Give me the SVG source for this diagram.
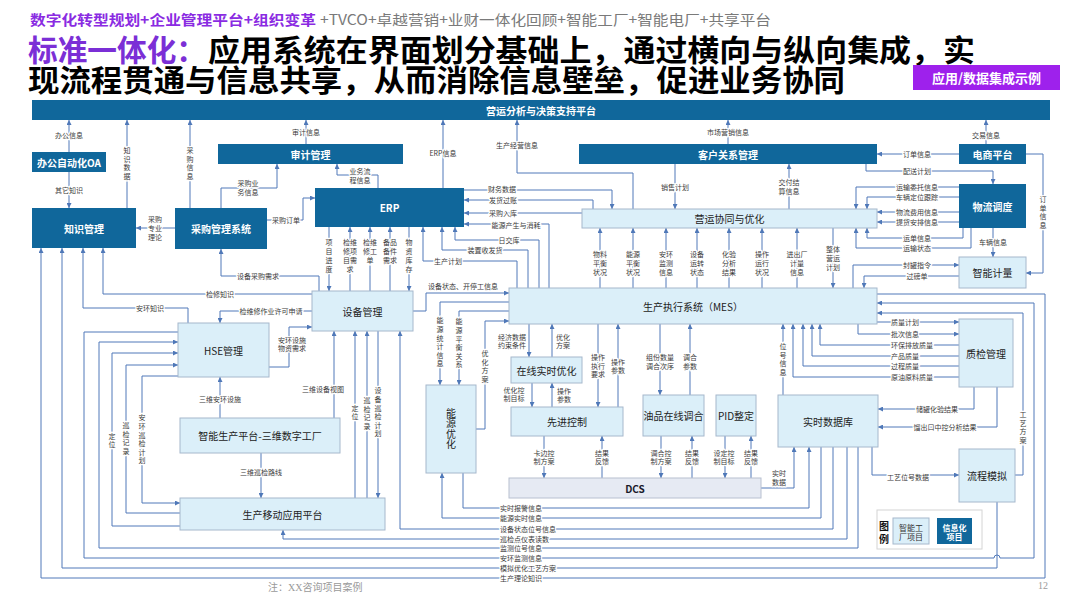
<svg xmlns="http://www.w3.org/2000/svg" width="1080" height="608" viewBox="0 0 1080 608">
<defs>
<style>
text{font-family:"Noto Sans CJK SC","Noto Sans",sans-serif}
.dk{fill:#10679b}
.lt{fill:#dbeff9;stroke:#a6b8cc;stroke-width:1}
.nt{font-size:10px;text-anchor:middle;dominant-baseline:central}
.w{fill:#fff;font-weight:bold}
.d{fill:#222}
#connectors path{fill:none;stroke:#5079b9;stroke-width:1}
.lb{font-size:7px;fill:#3a3a3a;text-anchor:middle;dominant-baseline:central;paint-order:stroke;stroke:#fff;stroke-width:2.5px;stroke-linejoin:round}
.ls{text-anchor:start}
.v{writing-mode:vertical-rl;letter-spacing:1.6px}
.tt{font-size:30px;font-weight:bold}
</style>
<marker id="a" viewBox="0 0 6 6" refX="6" refY="3" markerWidth="5" markerHeight="5" orient="auto" markerUnits="userSpaceOnUse"><path d="M0,0L6,3L0,6z" fill="#4f78b8"/></marker>
</defs>
<rect width="1080" height="608" fill="#fff"/>

<g id="header">
<text x="30" y="25" font-size="14" font-weight="bold" fill="#8a2be2" textLength="286" lengthAdjust="spacingAndGlyphs">数字化转型规划+企业管理平台+组织变革</text>
<text x="320" y="25" font-size="14" fill="#7a7a7a" textLength="451" lengthAdjust="spacingAndGlyphs">+TVCO+卓越营销+业财一体化回顾+智能工厂+智能电厂+共享平台</text>
<text class="tt" x="28" y="61" fill="#7b2fd6" textLength="178" lengthAdjust="spacingAndGlyphs">标准一体化：</text>
<text class="tt" x="208" y="61" fill="#000" textLength="767" lengthAdjust="spacingAndGlyphs">应用系统在界面划分基础上，通过横向与纵向集成，实</text>
<text class="tt" x="28" y="91" fill="#000" textLength="817" lengthAdjust="spacingAndGlyphs">现流程贯通与信息共享，从而消除信息壁垒，促进业务协同</text>
<rect x="913" y="65" width="147" height="25" fill="#9e21ec"/>
<text x="986.5" y="77.5" font-size="13" font-weight="bold" fill="#fff" text-anchor="middle" dominant-baseline="central">应用/数据集成示例</text>
</g>

<g id="connectors" marker-end="url(#a)">
<path d="M69,152V120"/>
<path d="M69,172V208"/>
<path d="M127,208V120"/>
<path d="M190,208V120"/>
<path d="M306,144V120"/>
<path d="M221,208V188H277V164"/>
<path d="M175,228H136"/>
<path d="M267,220H303V198H315"/>
<path d="M378,188V175H337V164"/>
<path d="M443,188V120"/>
<path d="M633,209V173H517V120"/>
<path d="M728,144V120"/>
<path d="M986,144V120"/>
<path d="M959,154H877"/>
<path d="M866,164V171H993V184"/>
<path d="M1026,154H1043V273H1026"/>
<path d="M675,164V209"/>
<path d="M789,209V164"/>
<path d="M959,187H856V209"/>
<path d="M959,197H867V209"/>
<path d="M959,212H877"/>
<path d="M959,222H877"/>
<path d="M963,228V238H867V228"/>
<path d="M971,228V248H856V228"/>
<path d="M993,228V257"/>
<path d="M853,288V265H959"/>
<path d="M959,276H864V288"/>
<path d="M600,288V228"/>
<path d="M633,288V228"/>
<path d="M666,288V228"/>
<path d="M697,288V228"/>
<path d="M729,288V228"/>
<path d="M762,288V228"/>
<path d="M797,288V228"/>
<path d="M833,228V288"/>
<path d="M329,227V291"/>
<path d="M350,291V227"/>
<path d="M370,291V227"/>
<path d="M390,291V227"/>
<path d="M409,227V291"/>
<path d="M464,190H612V209"/>
<path d="M593,209V200H464"/>
<path d="M582,213H464"/>
<path d="M549,288V224H464"/>
<path d="M539,288V240H455V227"/>
<path d="M528,288V250H442V227"/>
<path d="M517,288V261H423V227"/>
<path d="M413,311H426V293H509"/>
<path d="M509,302H440V385"/>
<path d="M509,311H459V385"/>
<path d="M476,429H485V321H509"/>
<path d="M529,324V357"/>
<path d="M552,357V324"/>
<path d="M532,383V407"/>
<path d="M552,407V383"/>
<path d="M598,324V407"/>
<path d="M618,407V324"/>
<path d="M660,324V395"/>
<path d="M690,395V324"/>
<path d="M783,395V324"/>
<path d="M877,322H959"/>
<path d="M858,324V334H959"/>
<path d="M959,345H820V324"/>
<path d="M959,356H812V324"/>
<path d="M959,366H803V324"/>
<path d="M959,377H793V324"/>
<path d="M974,387V409H878"/>
<path d="M997,387V427H878"/>
<path d="M1015,475H1023V313H877"/>
<path d="M178,332H84V558H994a3,3 0 0 1 6,0H1034V303H877"/>
<path d="M997,502V568H62V248"/>
<path d="M877,294H1045V578H41V248"/>
<path d="M858,447V548H99V342H178"/>
<path d="M847,447V539H283V530"/>
<path d="M833,447V529H400V331"/>
<path d="M821,447V518H442V473"/>
<path d="M463,473V508H809V447"/>
<path d="M761,488H794V447"/>
<path d="M872,447V475H959"/>
<path d="M188,323V308H83V248"/>
<path d="M312,294H103V248"/>
<path d="M319,291V276H221V249"/>
<path d="M312,311H220V323"/>
<path d="M269,367H289V327H312"/>
<path d="M180,526H112V353H178"/>
<path d="M180,513H126V365H178"/>
<path d="M178,376H142V503H180"/>
<path d="M220,418V377"/>
<path d="M334,418V331"/>
<path d="M355,498V331"/>
<path d="M367,498V331"/>
<path d="M378,331V498"/>
<path d="M261,453V498"/>
<path d="M544,436V478"/>
<path d="M602,478V436"/>
<path d="M661,436V478"/>
<path d="M692,478V436"/>
<path d="M725,436V478"/>
<path d="M751,478V436"/>

<text class="lb" x="69" y="135">办公信息</text>
<text class="lb" x="69" y="190">其它知识</text>
<text class="lb v" x="127" y="164">知识数据</text>
<text class="lb v" x="190" y="164">采购信息</text>
<text class="lb" x="306" y="132">审计信息</text>
<text class="lb"><tspan x="248" y="183">采购业</tspan><tspan x="248" y="192">务信息</tspan></text>
<text class="lb"><tspan x="155" y="219">采购</tspan><tspan x="155" y="228">专业</tspan><tspan x="155" y="237">理论</tspan></text>
<text class="lb" x="286" y="220">采购订单</text>
<text class="lb"><tspan x="360" y="171">业务流</tspan><tspan x="360" y="180">程信息</tspan></text>
<text class="lb" x="443" y="153">ERP信息</text>
<text class="lb" x="517" y="145">生产经营信息</text>
<text class="lb" x="728" y="132">市场营销信息</text>
<text class="lb" x="986" y="135">交易信息</text>
<text class="lb" x="917" y="154">订单信息</text>
<text class="lb" x="917" y="171">配送计划</text>
<text class="lb v" x="1043" y="213">订单信息</text>
<text class="lb" x="675" y="187">销售计划</text>
<text class="lb"><tspan x="789" y="182">交付结</tspan><tspan x="789" y="191">算信息</tspan></text>
<text class="lb" x="917" y="187">运输委托信息</text>
<text class="lb" x="917" y="197">车辆定位跟踪</text>
<text class="lb" x="917" y="212">物流费用信息</text>
<text class="lb" x="917" y="222">提货安排信息</text>
<text class="lb" x="917" y="238">运单信息</text>
<text class="lb" x="917" y="248">运输状态</text>
<text class="lb" x="993" y="242">车辆信息</text>
<text class="lb" x="917" y="265">封罐指令</text>
<text class="lb" x="917" y="276">过磅单</text>
<text class="lb"><tspan x="600" y="254">物料</tspan><tspan x="600" y="263">平衡</tspan><tspan x="600" y="272">状况</tspan></text>
<text class="lb"><tspan x="633" y="254">能源</tspan><tspan x="633" y="263">平衡</tspan><tspan x="633" y="272">状况</tspan></text>
<text class="lb"><tspan x="666" y="254">安环</tspan><tspan x="666" y="263">监测</tspan><tspan x="666" y="272">信息</tspan></text>
<text class="lb"><tspan x="697" y="254">设备</tspan><tspan x="697" y="263">运转</tspan><tspan x="697" y="272">状态</tspan></text>
<text class="lb"><tspan x="729" y="254">化验</tspan><tspan x="729" y="263">分析</tspan><tspan x="729" y="272">结果</tspan></text>
<text class="lb"><tspan x="762" y="254">操作</tspan><tspan x="762" y="263">运行</tspan><tspan x="762" y="272">状况</tspan></text>
<text class="lb"><tspan x="797" y="254">进出厂</tspan><tspan x="797" y="263">计量</tspan><tspan x="797" y="272">信息</tspan></text>
<text class="lb"><tspan x="833" y="249">整体</tspan><tspan x="833" y="258">营运</tspan><tspan x="833" y="267">计划</tspan></text>
<text class="lb"><tspan x="329" y="242">项</tspan><tspan x="329" y="251">目</tspan><tspan x="329" y="260">进</tspan><tspan x="329" y="269">度</tspan></text>
<text class="lb"><tspan x="350" y="242">检维</tspan><tspan x="350" y="251">修项</tspan><tspan x="350" y="260">目需</tspan><tspan x="350" y="269">求</tspan></text>
<text class="lb"><tspan x="370" y="242">检维</tspan><tspan x="370" y="251">修工</tspan><tspan x="370" y="260">单</tspan></text>
<text class="lb"><tspan x="390" y="242">备品</tspan><tspan x="390" y="251">备件</tspan><tspan x="390" y="260">需求</tspan></text>
<text class="lb"><tspan x="409" y="242">物</tspan><tspan x="409" y="251">资</tspan><tspan x="409" y="260">库</tspan><tspan x="409" y="269">存</tspan></text>
<text class="lb" x="502" y="189">财务数据</text>
<text class="lb" x="503" y="200">发货过账</text>
<text class="lb" x="503" y="213">采购入库</text>
<text class="lb" x="516" y="225">能源产生与消耗</text>
<text class="lb" x="509" y="240">日交库</text>
<text class="lb" x="485" y="250">装置收发货</text>
<text class="lb" x="448" y="261">生产计划</text>
<text class="lb" x="463" y="286">设备状态、开停工信息</text>
<text class="lb v" x="440" y="343">能源统计信息</text>
<text class="lb v" x="459" y="344">能源平衡关系</text>
<text class="lb v" x="485" y="367">优化方案</text>
<text class="lb"><tspan x="512" y="337">经济数据</tspan><tspan x="512" y="345">约束条件</tspan></text>
<text class="lb"><tspan x="563" y="337">优化</tspan><tspan x="563" y="345">方案</tspan></text>
<text class="lb"><tspan x="514" y="390">优化控</tspan><tspan x="514" y="398">制目标</tspan></text>
<text class="lb"><tspan x="564" y="391">操作</tspan><tspan x="564" y="399">参数</tspan></text>
<text class="lb"><tspan x="598" y="357">操作</tspan><tspan x="598" y="366">执行</tspan><tspan x="598" y="374">要求</tspan></text>
<text class="lb"><tspan x="618" y="362">操作</tspan><tspan x="618" y="370">参数</tspan></text>
<text class="lb"><tspan x="660" y="357">组份数量</tspan><tspan x="660" y="366">调合次序</tspan></text>
<text class="lb"><tspan x="690" y="357">调合</tspan><tspan x="690" y="366">参数</tspan></text>
<text class="lb v" x="783" y="360">位号信息</text>
<text class="lb ls" x="891" y="322">质量计划</text>
<text class="lb ls" x="891" y="334">批次信息</text>
<text class="lb ls" x="891" y="345">环保排放质量</text>
<text class="lb ls" x="891" y="356">产品质量</text>
<text class="lb ls" x="891" y="366">过程质量</text>
<text class="lb ls" x="891" y="377">原油原料质量</text>
<text class="lb" x="937" y="409">储罐化验结果</text>
<text class="lb" x="945" y="427">馏出口中控分析结果</text>
<text class="lb v" x="1023" y="428">工艺方案</text>
<text class="lb ls" x="500" y="508">实时报警信息</text>
<text class="lb ls" x="500" y="518">能源实时信息</text>
<text class="lb ls" x="500" y="529">设备状态位号信息</text>
<text class="lb ls" x="500" y="539">巡检点仪表读数</text>
<text class="lb ls" x="500" y="548">监测位号信息</text>
<text class="lb ls" x="500" y="558">安环监测信息</text>
<text class="lb ls" x="500" y="568">模拟优化工艺方案</text>
<text class="lb ls" x="500" y="578">生产理论知识</text>
<text class="lb"><tspan x="779" y="473">实时</tspan><tspan x="779" y="482">数据</tspan></text>
<text class="lb" x="908" y="477">工艺位号数据</text>
<text class="lb" x="150" y="308">安环知识</text>
<text class="lb" x="220" y="294">检修知识</text>
<text class="lb" x="258" y="276">设备采购需求</text>
<text class="lb" x="271" y="311">检维修作业许可申请</text>
<text class="lb"><tspan x="292" y="340">安环设施</tspan><tspan x="292" y="348">物资需求</tspan></text>
<text class="lb v" x="112" y="441">定位</text>
<text class="lb v" x="126" y="439">巡检记录</text>
<text class="lb v" x="142" y="440">安环巡检计划</text>
<text class="lb" x="220" y="399">三维安环设施</text>
<text class="lb" x="323" y="389">三维设备视图</text>
<text class="lb v" x="355" y="413">定位</text>
<text class="lb v" x="367" y="414">巡检记录</text>
<text class="lb v" x="378" y="413">设备巡检计划</text>
<text class="lb" x="261" y="472">三维巡检路线</text>
<text class="lb"><tspan x="544" y="453">卡边控</tspan><tspan x="544" y="461">制方案</tspan></text>
<text class="lb"><tspan x="602" y="453">结果</tspan><tspan x="602" y="461">反馈</tspan></text>
<text class="lb"><tspan x="661" y="453">调合控</tspan><tspan x="661" y="461">制方案</tspan></text>
<text class="lb"><tspan x="692" y="453">结果</tspan><tspan x="692" y="461">反馈</tspan></text>
<text class="lb"><tspan x="724" y="453">设定控</tspan><tspan x="724" y="461">制目标</tspan></text>
<text class="lb"><tspan x="751" y="453">结果</tspan><tspan x="751" y="461">反馈</tspan></text>
</g>

<g id="n-top"><rect class="dk" x="32" y="100" width="1018" height="20"/><text class="nt w" x="541" y="110">营运分析与决策支持平台</text></g>
<g id="n-oa"><rect class="dk" x="32" y="152" width="74" height="20"/><text class="nt w" x="69" y="162">办公自动化OA</text></g>
<g id="n-km"><rect class="dk" x="32" y="208" width="104" height="40"/><text class="nt w" x="84" y="228">知识管理</text></g>
<g id="n-cg"><rect class="dk" x="175" y="208" width="92" height="41"/><text class="nt w" x="221" y="228.5">采购管理系统</text></g>
<g id="n-sj"><rect class="dk" x="218" y="144" width="185" height="20"/><text class="nt w" x="310.5" y="154">审计管理</text></g>
<g id="n-erp"><rect class="dk" x="315" y="188" width="149" height="39"/><text class="nt w" x="389.5" y="207.5" font-size="10.5">ERP</text></g>
<g id="n-crm"><rect class="dk" x="579" y="144" width="298" height="20"/><text class="nt w" x="728" y="154">客户关系管理</text></g>
<g id="n-ec"><rect class="dk" x="959" y="144" width="67" height="20"/><text class="nt w" x="992.5" y="154">电商平台</text></g>
<g id="n-wl"><rect class="dk" x="959" y="184" width="67" height="44"/><text class="nt w" x="992.5" y="206">物流调度</text></g>
<g id="n-yy"><rect class="lt" x="582" y="209" width="295" height="19"/><text class="nt d" x="729.5" y="218.5">营运协同与优化</text></g>
<g id="n-jl"><rect class="lt" x="959" y="257" width="67" height="31"/><text class="nt d" x="992.5" y="272.5">智能计量</text></g>
<g id="n-sb"><rect class="lt" x="312" y="291" width="101" height="40"/><text class="nt d" x="362.5" y="311">设备管理</text></g>
<g id="n-mes"><rect class="lt" x="509" y="288" width="368" height="36"/><text class="nt d" x="693" y="306">生产执行系统（MES）</text></g>
<g id="n-hse"><rect class="lt" x="178" y="323" width="91" height="54"/><text class="nt d" x="223.5" y="350">HSE管理</text></g>
<g id="n-ny"><rect class="lt" x="426" y="385" width="50" height="88"/><text class="nt d v" x="451" y="429" font-size="11.5" style="letter-spacing:0.4px">能源优化</text></g>
<g id="n-zx"><rect class="lt" x="511" y="357" width="71" height="26"/><text class="nt d" x="546.5" y="370">在线实时优化</text></g>
<g id="n-xj"><rect class="lt" x="511" y="407" width="112" height="29"/><text class="nt d" x="567" y="421.5">先进控制</text></g>
<g id="n-yp"><rect class="lt" x="643" y="395" width="61" height="41"/><text class="nt d" x="673.5" y="415.5">油品在线调合</text></g>
<g id="n-pid"><rect class="lt" x="716" y="395" width="40" height="41"/><text class="nt d" x="736" y="415.5">PID整定</text></g>
<g id="n-ss"><rect class="lt" x="778" y="395" width="100" height="52"/><text class="nt d" x="828" y="421">实时数据库</text></g>
<g id="n-zj"><rect class="lt" x="959" y="319" width="54" height="68"/><text class="nt d" x="986" y="353">质检管理</text></g>
<g id="n-lc"><rect class="lt" x="959" y="449" width="56" height="53"/><text class="nt d" x="987" y="475.5">流程模拟</text></g>
<g id="n-3d"><rect class="lt" x="180" y="418" width="160" height="35"/><text class="nt d" x="260" y="435.5">智能生产平台-三维数字工厂</text></g>
<g id="n-yd"><rect class="lt" x="180" y="498" width="205" height="32"/><text class="nt d" x="282.5" y="514">生产移动应用平台</text></g>
<g id="n-dcs"><rect x="509" y="478" width="252" height="20" fill="#e6eaf3" stroke="#b8c0d0"/><text class="nt" x="635" y="488" font-size="11" font-weight="bold" fill="#1a1a2a">DCS</text></g>

<g id="legend">
<rect x="877" y="510" width="105" height="39" fill="#fff" stroke="#d4d4d4"/>
<text x="884" y="525" font-size="10" font-weight="bold" fill="#111" text-anchor="middle" dominant-baseline="central">图</text>
<text x="884" y="538" font-size="10" font-weight="bold" fill="#111" text-anchor="middle" dominant-baseline="central">例</text>
<rect class="lt" x="893" y="518" width="36" height="26"/>
<text font-size="8" fill="#333" text-anchor="middle" dominant-baseline="central"><tspan x="911" y="526.5">智能工</tspan><tspan x="911" y="536">厂项目</tspan></text>
<rect class="dk" x="937" y="518" width="35" height="26"/>
<text font-size="8" font-weight="bold" fill="#fff" text-anchor="middle" dominant-baseline="central"><tspan x="954.5" y="526.5">信息化</tspan><tspan x="954.5" y="536">项目</tspan></text>
</g>

<g id="footer">
<text x="268" y="591" font-size="10" fill="#9a9a9a" style="font-family:'Liberation Serif','Noto Sans CJK SC',serif">注：XX咨询项目案例</text>
<text x="1043" y="589" font-size="10" fill="#9a9a9a" text-anchor="middle" style="font-family:'Liberation Serif',serif">12</text>
</g>
</svg>
